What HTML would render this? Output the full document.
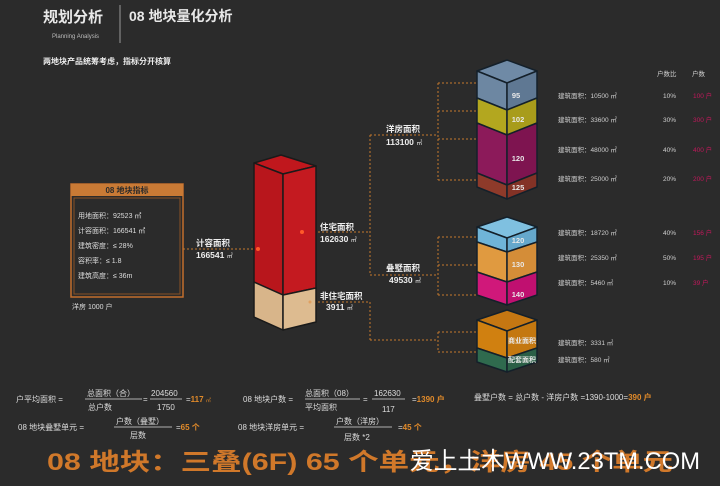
<!DOCTYPE html>
<html><head><meta charset="utf-8"><style>
body{margin:0;background:#2b2b2b;}
svg{display:block;font-family:"Liberation Sans","Noto Sans CJK SC",sans-serif;}
</style></head><body>
<svg width="720" height="486" viewBox="0 0 720 486" xmlns="http://www.w3.org/2000/svg">
<rect width="720" height="486" fill="#2b2b2b"/>
<text x="43" y="22" fill="#e8e8e8" font-size="15" font-weight="bold">规划分析</text>
<text x="52" y="38" fill="#bbb" font-size="6">Planning Analysis</text>
<line x1="120" y1="5" x2="120" y2="43" stroke="#999" stroke-width="1"/>
<text x="129" y="21" fill="#e8e8e8" font-size="14" font-weight="bold">08 地块量化分析</text>
<text x="43" y="64" fill="#eee" font-size="8" font-weight="bold">两地块产品统筹考虑，指标分开核算</text>

<rect x="71" y="184" width="112" height="113" fill="#2b2b2b" stroke="#c26e2c" stroke-width="1.5"/>
<rect x="71" y="184" width="112" height="12" fill="#c97a35"/>
<text x="127" y="193" fill="#2b2b2b" font-size="8" font-weight="bold" text-anchor="middle">08 地块指标</text>
<rect x="74" y="198" width="106" height="96" fill="none" stroke="#8a5025" stroke-width="1"/>
<g fill="#ddd" font-size="7">
<text x="78" y="218">用地面积：92523 ㎡</text>
<text x="78" y="233">计容面积：166541 ㎡</text>
<text x="78" y="248">建筑密度：≤ 28%</text>
<text x="78" y="263">容积率：≤ 1.8</text>
<text x="78" y="278">建筑高度：≤ 36m</text>
<text x="72" y="309">洋房 1000 户</text>
</g>

<g stroke="#c4782d" stroke-width="1" stroke-dasharray="2,2" fill="none">
<line x1="183" y1="249" x2="258" y2="249"/>
<line x1="302" y1="232" x2="370" y2="232"/>
<line x1="370" y1="135" x2="370" y2="275"/>
<line x1="370" y1="135" x2="438" y2="135"/>
<line x1="370" y1="275" x2="438" y2="275"/>
<line x1="438" y1="83" x2="438" y2="180"/>
<line x1="438" y1="83" x2="482" y2="83"/>
<line x1="438" y1="111" x2="482" y2="111"/>
<line x1="438" y1="139" x2="482" y2="139"/>
<line x1="438" y1="180" x2="482" y2="180"/>
<line x1="438" y1="237" x2="438" y2="295"/>
<line x1="438" y1="237" x2="482" y2="237"/>
<line x1="438" y1="265" x2="482" y2="265"/>
<line x1="438" y1="295" x2="482" y2="295"/>
<line x1="310" y1="302" x2="370" y2="302"/>
<line x1="370" y1="302" x2="370" y2="340"/>
<line x1="370" y1="340" x2="438" y2="340"/>
<line x1="438" y1="332" x2="438" y2="352"/>
<line x1="438" y1="332" x2="482" y2="332"/>
<line x1="438" y1="352" x2="482" y2="352"/>
</g>

<g stroke="#1a1a1a" stroke-width="1.5" stroke-linejoin="round">
<polygon points="254,163 281,155 316,166 283,174" fill="#c0171d"/>
<polygon points="254,163 283,174 283,295 254,282" fill="#b8161c"/>
<polygon points="283,174 316,166 316,288 283,295" fill="#c41a20"/>
<polygon points="254,282 283,295 283,330 254,317" fill="#d8b58a"/>
<polygon points="283,295 316,288 316,322 283,330" fill="#ddbb90"/>
</g>
<circle cx="258" cy="249" r="2" fill="#ff5a2a"/>
<circle cx="302" cy="232" r="2" fill="#ff5a2a"/>
<circle cx="310" cy="302" r="1.5" fill="#e0a060"/>
<g fill="#eee" font-size="8.5" font-weight="bold">
<text x="196" y="246">计容面积</text><text x="196" y="258">166541 <tspan font-size="6" font-weight="normal">㎡</tspan></text>
<text x="320" y="230">住宅面积</text><text x="320" y="242">162630 <tspan font-size="6" font-weight="normal">㎡</tspan></text>
<text x="320" y="299">非住宅面积</text><text x="326" y="310">3911 <tspan font-size="6" font-weight="normal">㎡</tspan></text>
<text x="386" y="132">洋房面积</text><text x="386" y="145">113100 <tspan font-size="6" font-weight="normal">㎡</tspan></text>
<text x="386" y="271">叠墅面积</text><text x="389" y="283">49530 <tspan font-size="6" font-weight="normal">㎡</tspan></text>
</g>

<g stroke="#14202a" stroke-width="1.5" stroke-linejoin="round">
<polygon points="477,71 507,60 537,71 507,83" fill="#6f8aa6"/>
<polygon points="477,71 507,83 507,110 477,98" fill="#6d87a2"/>
<polygon points="507,83 537,71 537,98 507,110" fill="#5f7893"/>
<polygon points="477,98 507,110 507,135 477,123" fill="#b3a71f"/>
<polygon points="507,110 537,98 537,123 507,135" fill="#a89c1b"/>
<polygon points="477,123 507,135 507,185 477,173" fill="#8c1a5a"/>
<polygon points="507,135 537,123 537,173 507,185" fill="#7e1450"/>
<polygon points="477,173 507,185 507,199 477,187" fill="#8e3a2a"/>
<polygon points="507,185 537,173 537,187 507,199" fill="#833226"/>

<polygon points="477,227 507,217 537,227 507,238" fill="#7fc0e0"/>
<polygon points="477,227 507,238 507,252 477,242" fill="#6fb4d8"/>
<polygon points="507,238 537,227 537,242 507,252" fill="#65a8cc"/>
<polygon points="477,242 507,252 507,282 477,272" fill="#e09a40"/>
<polygon points="507,252 537,242 537,272 507,282" fill="#d48d38"/>
<polygon points="477,272 507,282 507,305 477,295" fill="#d0187a"/>
<polygon points="507,282 537,272 537,295 507,305" fill="#c01070"/>

<polygon points="477,320 507,310 537,320 507,331" fill="#c57712"/>
<polygon points="477,320 507,331 507,358 477,348" fill="#d08010"/>
<polygon points="507,331 537,320 537,348 507,358" fill="#c47810"/>
<polygon points="477,348 507,358 507,372 477,362" fill="#2f6a4e"/>
<polygon points="507,358 537,348 537,362 507,372" fill="#2a5f46"/>
</g>
<g fill="#e8e8e8" font-size="7.5" font-weight="bold" text-anchor="middle">
<text x="516" y="98">95</text><text x="518" y="122">102</text><text x="518" y="161">120</text><text x="518" y="190">125</text>
<text x="518" y="243">120</text><text x="518" y="267">130</text><text x="518" y="297">140</text>
<text x="522" y="343" font-size="7">商业面积</text><text x="522" y="362" font-size="7">配套面积</text>
</g>
<g fill="#cfcfcf" font-size="6.5">
<text x="558" y="98">建筑面积：10500 ㎡</text>
<text x="558" y="122">建筑面积：33600 ㎡</text>
<text x="558" y="152">建筑面积：48000 ㎡</text>
<text x="558" y="181">建筑面积：25000 ㎡</text>
<text x="558" y="235">建筑面积：18720 ㎡</text>
<text x="558" y="260">建筑面积：25350 ㎡</text>
<text x="558" y="285">建筑面积：5460 ㎡</text>
<text x="558" y="345">建筑面积：3331 ㎡</text>
<text x="558" y="362">建筑面积：580 ㎡</text>
<text x="657" y="76">户数比</text><text x="692" y="76">户数</text>
<text x="663" y="98">10%</text><text x="663" y="122">30%</text><text x="663" y="152">40%</text><text x="663" y="181">20%</text>
<text x="663" y="235">40%</text><text x="663" y="260">50%</text><text x="663" y="285">10%</text>
</g>
<g fill="#c2185b" font-size="6.5">
<text x="693" y="98">100 户</text><text x="693" y="122">300 户</text><text x="693" y="152">400 户</text><text x="693" y="181">200 户</text>
<text x="693" y="235">156 户</text><text x="693" y="260">195 户</text><text x="693" y="285">39 户</text>
</g>

<g fill="#ddd" font-size="8">
<text x="16" y="402">户平均面积 =</text>
<text x="87" y="396">总面积（合）</text><line x1="85" y1="399" x2="142" y2="399" stroke="#ddd" stroke-width="0.7"/><text x="88" y="410">总户数</text>
<text x="143" y="402">=</text>
<text x="151" y="396">204560</text><line x1="150" y1="399" x2="182" y2="399" stroke="#ddd" stroke-width="0.7"/><text x="157" y="410">1750</text>
<text x="186" y="402">=<tspan fill="#e08a2a" font-weight="bold">117</tspan> <tspan fill="#e08a2a" font-size="5">㎡</tspan></text>
<text x="243" y="402">08 地块户数 =</text>
<text x="305" y="396">总面积（08）</text><line x1="305" y1="399" x2="360" y2="399" stroke="#ddd" stroke-width="0.7"/><text x="305" y="410">平均面积</text>
<text x="363" y="402">=</text>
<text x="374" y="396">162630</text><line x1="372" y1="399" x2="405" y2="399" stroke="#ddd" stroke-width="0.7"/><text x="382" y="412">117</text>
<text x="412" y="402">=<tspan fill="#e08a2a" font-weight="bold">1390 户</tspan></text>
<text x="474" y="400">叠墅户数 = 总户数 - 洋房户数 =1390-1000=<tspan fill="#e08a2a" font-weight="bold">390 户</tspan></text>
<text x="18" y="430">08 地块叠墅单元 =</text>
<text x="116" y="424">户数（叠墅）</text><line x1="114" y1="427" x2="172" y2="427" stroke="#ddd" stroke-width="0.7"/><text x="130" y="438">层数</text>
<text x="176" y="430">=<tspan fill="#e08a2a" font-weight="bold">65 个</tspan></text>
<text x="238" y="430">08 地块洋房单元 =</text>
<text x="336" y="424">户数（洋房）</text><line x1="334" y1="427" x2="392" y2="427" stroke="#ddd" stroke-width="0.7"/><text x="344" y="440">层数 *2</text>
<text x="398" y="430">=<tspan fill="#e08a2a" font-weight="bold">45 个</tspan></text>
</g>
<text x="47" y="470" fill="#d0782a" font-size="24" font-weight="bold" textLength="626" lengthAdjust="spacingAndGlyphs">08 地块：三叠(6F) 65 个单元，洋房 45 个单元</text>
<text x="410" y="469" fill="#ffffff" font-size="24" textLength="290" lengthAdjust="spacingAndGlyphs">爱上土木WWW.23TM.COM</text>
</svg>
</body></html>
